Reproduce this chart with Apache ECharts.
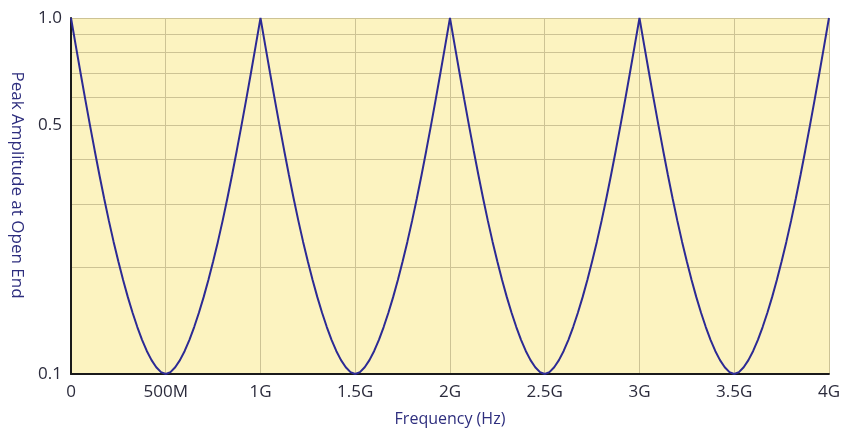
<!DOCTYPE html>
<html>
<head>
<meta charset="utf-8">
<script src="https://cdn.jsdelivr.net/npm/echarts@6/dist/echarts.min.js"></script>
<style>
html,body{margin:0;padding:0;background:#fff;}
#chart{width:843px;height:432px;}
</style>
</head>
<body>
<div id="chart"></div>
<script>
// Frequency in MHz
var freqMHz = [
  0,25,50,75,100,125,150,175,200,225,250,275,300,325,350,375,400,425,450,475,
  500,525,550,575,600,625,650,675,700,725,750,775,800,825,850,875,900,925,950,975,
  1000,1025,1050,1075,1100,1125,1150,1175,1200,1225,1250,1275,1300,1325,1350,1375,1400,1425,1450,1475,
  1500,1525,1550,1575,1600,1625,1650,1675,1700,1725,1750,1775,1800,1825,1850,1875,1900,1925,1950,1975,
  2000,2025,2050,2075,2100,2125,2150,2175,2200,2225,2250,2275,2300,2325,2350,2375,2400,2425,2450,2475,
  2500,2525,2550,2575,2600,2625,2650,2675,2700,2725,2750,2775,2800,2825,2850,2875,2900,2925,2950,2975,
  3000,3025,3050,3075,3100,3125,3150,3175,3200,3225,3250,3275,3300,3325,3350,3375,3400,3425,3450,3475,
  3500,3525,3550,3575,3600,3625,3650,3675,3700,3725,3750,3775,3800,3825,3850,3875,3900,3925,3950,3975,
  4000
];
// Peak amplitude at open end
var amplitude = [
  1.0,0.8375,0.7031,0.5916,0.500,0.4246,0.3622,0.3112,0.2692,0.2350,0.2070,0.1837,0.1644,0.1486,0.1355,0.1247,0.1161,0.1094,0.1045,0.1012,
  0.1,0.1012,0.1045,0.1094,0.1161,0.1247,0.1355,0.1486,0.1644,0.1837,0.2070,0.2350,0.2692,0.3112,0.3622,0.4246,0.500,0.5916,0.7031,0.8375,
  1.0,0.8375,0.7031,0.5916,0.500,0.4246,0.3622,0.3112,0.2692,0.2350,0.2070,0.1837,0.1644,0.1486,0.1355,0.1247,0.1161,0.1094,0.1045,0.1012,
  0.1,0.1012,0.1045,0.1094,0.1161,0.1247,0.1355,0.1486,0.1644,0.1837,0.2070,0.2350,0.2692,0.3112,0.3622,0.4246,0.500,0.5916,0.7031,0.8375,
  1.0,0.8375,0.7031,0.5916,0.500,0.4246,0.3622,0.3112,0.2692,0.2350,0.2070,0.1837,0.1644,0.1486,0.1355,0.1247,0.1161,0.1094,0.1045,0.1012,
  0.1,0.1012,0.1045,0.1094,0.1161,0.1247,0.1355,0.1486,0.1644,0.1837,0.2070,0.2350,0.2692,0.3112,0.3622,0.4246,0.500,0.5916,0.7031,0.8375,
  1.0,0.8375,0.7031,0.5916,0.500,0.4246,0.3622,0.3112,0.2692,0.2350,0.2070,0.1837,0.1644,0.1486,0.1355,0.1247,0.1161,0.1094,0.1045,0.1012,
  0.1,0.1012,0.1045,0.1094,0.1161,0.1247,0.1355,0.1486,0.1644,0.1837,0.2070,0.2350,0.2692,0.3112,0.3622,0.4246,0.500,0.5916,0.7031,0.8375,
  1.0
];
var xTickValues = [0,500,1000,1500,2000,2500,3000,3500,4000];
var xTickLabels = ['0','500M','1G','1.5G','2G','2.5G','3G','3.5G','4G'];
var yGridValues = [0.1,0.2,0.3,0.4,0.5,0.6,0.7,0.8,0.9,1.0];
var yLabelValues = [0.1,0.5,1.0];
var yLabelTexts = ['0.1','0.5','1.0'];

var data = freqMHz.map(function (f, i) { return [f, amplitude[i]]; });

var FONT = 'Open Sans';
var chart = echarts.init(document.getElementById('chart'), null, {renderer: 'canvas'});
chart.setOption({
  animation: false,
  backgroundColor: '#ffffff',
  grid: {
    left: 71, top: 18, right: 13, bottom: 53,
    show: true, backgroundColor: '#fcf3c0', borderWidth: 0
  },
  xAxis: {
    type: 'value', min: 0, max: 4000, interval: 500,
    axisLine: {show: true, onZero: false, lineStyle: {color: '#1a1a1a', width: 2}},
    axisTick: {show: false},
    splitLine: {show: true, lineStyle: {color: '#cdc394', width: 1}},
    axisLabel: {
      color: '#2b2b3c', fontFamily: FONT, fontSize: 17, margin: 10,
      formatter: function (v) {
        var i = xTickValues.indexOf(v);
        return i >= 0 ? xTickLabels[i] : '';
      }
    },
    name: 'Frequency (Hz)', nameLocation: 'middle', nameGap: 37,
    nameTextStyle: {color: '#2e2e7e', fontFamily: FONT, fontSize: 16}
  },
  yAxis: {
    type: 'log', logBase: 10, min: 0.1, max: 1,
    axisLine: {show: true, lineStyle: {color: '#1a1a1a', width: 2}},
    axisTick: {show: false, customValues: yGridValues},
    splitLine: {show: true, lineStyle: {color: '#cdc394', width: 1}},
    minorSplitLine: {show: false},
    axisLabel: {
      customValues: yLabelValues,
      color: '#2b2b3c', fontFamily: FONT, fontSize: 17, margin: 9,
      formatter: function (v) {
        for (var i = 0; i < yLabelValues.length; i++) {
          if (Math.abs(yLabelValues[i] - v) < 1e-9) return yLabelTexts[i];
        }
        return '';
      }
    }
  },
  graphic: [{
    type: 'text',
    x: 17, y: 185,
    rotation: -Math.PI / 2,
    style: {
      text: 'Peak Amplitude at Open End',
      fill: '#2e2e7e', font: '17px "Open Sans"',
      align: 'center', verticalAlign: 'middle'
    }
  }],
  series: [{
    type: 'line',
    data: data,
    showSymbol: false,
    symbol: 'none',
    lineStyle: {color: '#2c2a94', width: 2},
    z: 5
  }]
});
</script>
</body>
</html>
